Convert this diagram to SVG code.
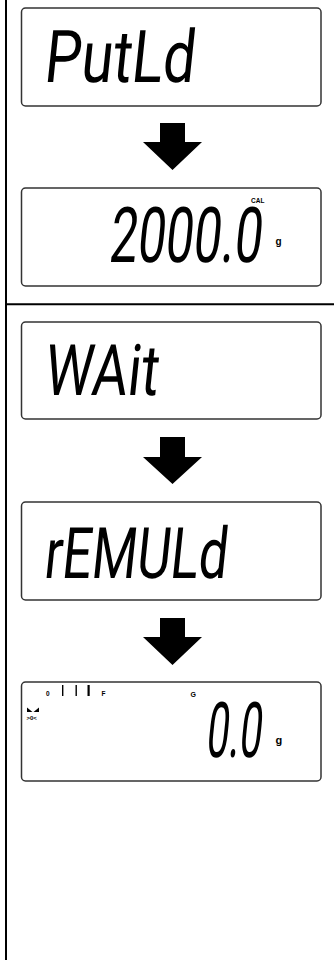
<svg xmlns="http://www.w3.org/2000/svg" width="334" height="960" viewBox="0 0 334 960">
<style>
.lcd{fill:#fff;stroke:#333;stroke-width:1.5}
.seg{font-family:Roboto,"Liberation Sans",sans-serif;font-weight:normal;fill:#000}
.sm{font-family:"Liberation Sans",Arial,sans-serif;font-weight:bold;fill:#000}
.arr{fill:#000}
.rule{stroke:#000;stroke-width:2;fill:none}
</style>
<rect width="334" height="960" fill="#fff"/>
<g id="frame">
<line class="rule" x1="6" y1="0" x2="6" y2="960"/>
<line class="rule" x1="6" y1="304.3" x2="334" y2="304.3"/>
</g>
<g id="connectors">
<polygon class="arr" points="160,123 185,123 185,142 202,142 172.5,170 143,142 160,142"/>
<polygon class="arr" points="160,437 185,437 185,457 202,457 172.5,484 143,457 160,457"/>
<polygon class="arr" points="160,618 185,618 185,637 202,637 172.5,665 143,637 160,637"/>
</g>
<g id="node-putld">
<rect class="lcd" x="21.5" y="8" width="299.5" height="98" rx="4"/>
<text class="seg" font-size="73" transform="translate(43,82) skewX(-6) scale(0.79,1)">PutLd</text>
</g>
<g id="node-2000">
<rect class="lcd" x="21.5" y="188" width="299.5" height="98" rx="4"/>
<text class="sm" font-size="6.5" x="251" y="202.5">CAL</text>
<text class="seg" font-size="77" transform="translate(108,262) skewX(-6) scale(0.645,1)">2000.0</text>
<text class="sm" font-size="10" x="275.5" y="245">g</text>
</g>
<g id="node-wait">
<rect class="lcd" x="21.5" y="322" width="299.5" height="97" rx="4"/>
<text class="seg" font-size="71" transform="translate(43,395) skewX(-6) scale(0.77,1)">WAit</text>
</g>
<g id="node-remuld">
<rect class="lcd" x="21.5" y="502" width="299.5" height="98" rx="4"/>
<text class="seg" font-size="71" transform="translate(43,578) skewX(-6) scale(0.73,1)">rEMULd</text>
</g>
<g id="node-zero">
<rect class="lcd" x="21.5" y="682" width="299.5" height="99" rx="4"/>
<text class="sm" font-size="6.5" x="46" y="696">0</text>
<rect x="62" y="685" width="1.4" height="11" fill="#000"/>
<rect x="75.5" y="685" width="1.4" height="11" fill="#000"/>
<rect x="87.5" y="685" width="2.2" height="11" fill="#000"/>
<text class="sm" font-size="6.5" x="101.5" y="696">F</text>
<text class="sm" font-size="7" x="190.5" y="696.5">G</text>
<polygon points="27,707.5 27,712 32.5,712" fill="#000"/>
<polygon points="39,707.5 39,712 33.5,712" fill="#000"/>
<text class="sm" font-size="6" x="26.5" y="719.5">&gt;0&lt;</text>
<text class="seg" font-size="77" transform="translate(205,757) skewX(-6) scale(0.52,1)">0.0</text>
<text class="sm" font-size="11" x="275.5" y="744">g</text>
</g>
</svg>
